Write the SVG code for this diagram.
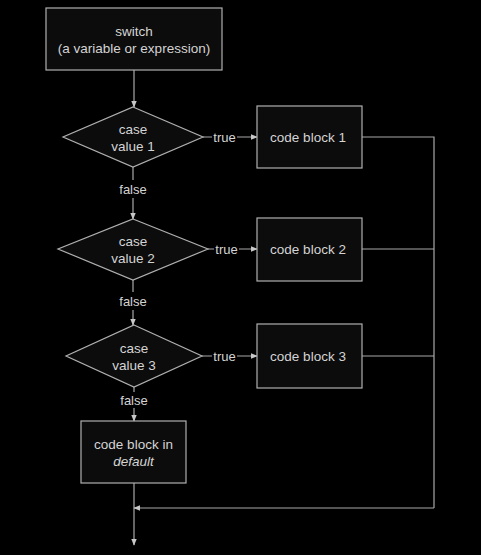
<svg xmlns="http://www.w3.org/2000/svg" width="481" height="555" viewBox="0 0 481 555">
<defs>
<style>
.n{fill:#0c0c0c;stroke:#b0b0b0;stroke-width:1.2}
.t{font-family:"Liberation Sans",Arial,sans-serif;font-size:13.5px;fill:#d4d4d4;text-anchor:middle;dominant-baseline:central}
.l{fill:none;stroke:#a8a8a8;stroke-width:1.2}
.lb{font-family:"Liberation Sans",Arial,sans-serif;font-size:13px;fill:#d4d4d4;text-anchor:middle;dominant-baseline:central}
</style>
<marker id="a" viewBox="0 0 10 10" refX="9" refY="5" markerWidth="7" markerHeight="7" orient="auto" markerUnits="userSpaceOnUse">
<path d="M0,1 L10,5 L0,9 Z" fill="#c8c8c8"/>
</marker>
</defs>
<rect width="481" height="555" fill="#000"/>
<g id="connectors">
<path class="l" d="M134,70 V107" marker-end="url(#a)"/>
<path class="l" d="M203,137 H212 M237,137 H257" marker-end="url(#a)"/>
<path class="l" d="M133,167 V180 M133,198 V219" marker-end="url(#a)"/>
<path class="l" d="M208,249 H214 M239,249 H257" marker-end="url(#a)"/>
<path class="l" d="M133,280 V292 M133,310 V325" marker-end="url(#a)"/>
<path class="l" d="M202,356 H212 M237,356 H257" marker-end="url(#a)"/>
<path class="l" d="M134,387 V392 M134,408 V421" marker-end="url(#a)"/>
<path class="l" d="M134,483 V545" marker-end="url(#a)"/>
<path class="l" d="M362,137 H434 V508 M362,249 H434 M362,356 H434"/>
<path class="l" d="M434,508 H134" marker-end="url(#a)"/>
<text class="lb" x="224.5" y="137">true</text>
<text class="lb" x="226.5" y="249">true</text>
<text class="lb" x="224.5" y="356">true</text>
<text class="lb" x="133" y="189">false</text>
<text class="lb" x="133" y="301">false</text>
<text class="lb" x="134" y="400">false</text>
</g>
<g id="switch">
<rect class="n" x="46" y="8" width="176" height="62"/>
<text class="t" x="134" y="31">switch</text>
<text class="t" x="134" y="48">(a variable or expression)</text>
</g>
<g id="case1">
<polygon class="n" points="133,107 203,137 133,167 63,137"/>
<text class="t" x="133" y="129">case</text>
<text class="t" x="133" y="146">value 1</text>
</g>
<g id="case2">
<polygon class="n" points="133,219 208,249 133,280 58,249"/>
<text class="t" x="133" y="241">case</text>
<text class="t" x="133" y="258">value 2</text>
</g>
<g id="case3">
<polygon class="n" points="134,325 202,356 134,387 66,356"/>
<text class="t" x="134" y="348">case</text>
<text class="t" x="134" y="365">value 3</text>
</g>
<g id="block1">
<rect class="n" x="257" y="106" width="105" height="62"/>
<text class="t" x="308" y="137">code block 1</text>
</g>
<g id="block2">
<rect class="n" x="257" y="218" width="105" height="63"/>
<text class="t" x="308" y="249">code block 2</text>
</g>
<g id="block3">
<rect class="n" x="257" y="324" width="105" height="64"/>
<text class="t" x="308" y="356">code block 3</text>
</g>
<g id="default">
<rect class="n" x="81" y="421" width="105" height="62"/>
<text class="t" x="133.5" y="444">code block in</text>
<text class="t" x="133.5" y="461" font-style="italic">default</text>
</g>
</svg>
